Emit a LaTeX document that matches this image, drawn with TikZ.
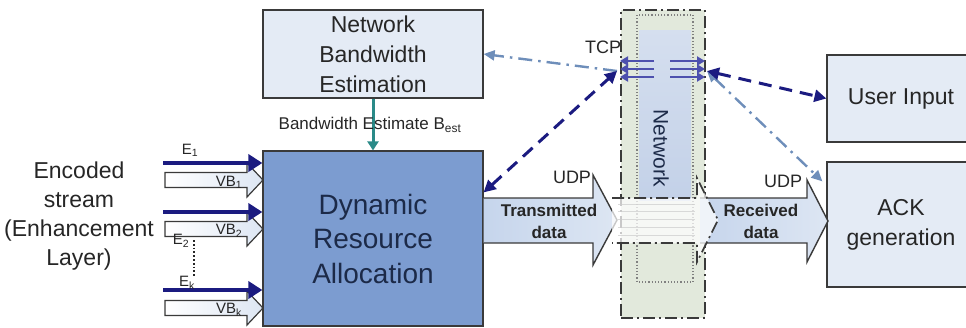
\documentclass[tikz,border=0pt]{standalone}
\usepackage{fontspec}
\setmainfont{Liberation Sans}
\usetikzlibrary{arrows.meta,calc}

\definecolor{txt}{HTML}{262626}
\definecolor{dratxt}{HTML}{1C2A48}
\definecolor{boxline}{HTML}{3A3A3A}
\definecolor{boxfill}{HTML}{E4EBF5}
\definecolor{drafill}{HTML}{7C9CD0}
\definecolor{navy}{HTML}{1B1B80}
\definecolor{teal}{HTML}{2A8A88}
\definecolor{ddblue}{HTML}{6E8EBA}
\definecolor{tcpblue}{HTML}{4D50AE}
\definecolor{netfill}{HTML}{E2E9DC}
\definecolor{netstrip}{HTML}{C3D1E8}
\definecolor{flowA}{HTML}{C6D5EC}
\definecolor{flowB}{HTML}{DDE6F3}

\tikzset{
  lightbox/.style={draw=boxline, line width=1.2pt, fill=boxfill, inner sep=0pt,
    text=txt, align=center, font=\fontsize{23}{30}\selectfont},
  drabox/.style={draw=boxline, line width=1.2pt, fill=drafill, inner sep=0pt,
    text=dratxt, align=center, font=\fontsize{28}{34.5}\selectfont},
  plain/.style={text=txt, inner sep=0pt, align=center},
  small/.style={plain, font=\fontsize{15}{17}\selectfont},
  proto/.style={plain, font=\fontsize{18}{20}\selectfont},
  flowtext/.style={plain, font=\bfseries\fontsize{17}{22}\selectfont},
  earrow/.style={navy, line width=4.8pt, -{Triangle[length=14pt,width=17pt]}},
  vbarrow/.style={draw=boxline, line width=1.2pt, left color=white, right color=flowB},
  flowarrow/.style={draw=boxline, line width=1.4pt, left color=flowA, right color=flowB},
  navydash/.style={navy, line width=3pt, dash pattern=on 13pt off 8pt,
    {Triangle[length=12pt,width=12pt]}-{Triangle[length=12pt,width=12pt]}},
  dashdot/.style={ddblue, line width=2.4pt, dash pattern=on 14pt off 6pt on 2.5pt off 6pt},
  ddtip/.style={Triangle[length=11pt,width=10pt]},
  tcparrow/.style={tcpblue, line width=2.2pt, -{Triangle[length=8pt,width=9pt]}},
  netframe/.style={draw=boxline, line width=1.6pt, fill=netfill,
    dash pattern=on 12pt off 4pt on 2pt off 4pt, inner sep=0pt},
}

% block arrow feeding a VB stream into the allocator, centred at height #1
\newcommand\vbblock[1]{%
  \draw[vbarrow] (165,{#1-7.5}) -- (247,{#1-7.5}) -- (247,{#1-17}) -- (263,#1)
    -- (247,{#1+17}) -- (247,{#1+7.5}) -- (165,{#1+7.5}) -- cycle;}

\begin{document}
\begin{tikzpicture}[x=1pt,y=-1pt]
\useasboundingbox (0,0) rectangle (966,327);

% ---------- network column ----------
\node[netframe, minimum width=84pt, minimum height=308pt] (net) at (663,164) {};
\draw[gray, line width=1.2pt, dotted] (637,15) rectangle (693,282);
\node[top color=netstrip!70, bottom color=netstrip, minimum width=52pt, minimum height=170pt, inner sep=0pt] (strip) at (665,115) {};
\node[rotate=-90, text=dratxt, inner sep=0pt, font=\fontsize{21}{24}\selectfont] (netlabel) at (661,148) {Network};

% ---------- main blocks ----------
\node[lightbox, minimum width=220pt, minimum height=88pt] (nbe) at (373,54) {Network\\Bandwidth\\Estimation};
\node[drabox, minimum width=220pt, minimum height=175pt] (dra) at (373,238.5) {Dynamic\\Resource\\Allocation};
\node[lightbox, minimum width=148pt, minimum height=87pt] (ui) at (901,98.5) {User Input};
\node[lightbox, minimum width=148pt, minimum height=125pt] (ack) at (901,224.5) {ACK\\generation};

% ---------- input streams ----------
\node[plain, font=\fontsize{23}{29}\selectfont] (enc) at (79,216) {Encoded\\stream\\(Enhancement\\Layer)};

\coordinate (e1s) at (163,163);
\coordinate (e2s) at (163,212);
\coordinate (eks) at (163,290);
\vbblock{180}
\vbblock{229}
\vbblock{308}
\draw[earrow] (e1s) -- (e1s -| dra.west);
\draw[earrow] (e2s) -- (e2s -| dra.west);
\draw[earrow] (eks) -- (eks -| dra.west);

\node[small] (le1) at (190,150) {E\textsubscript{1}};
\node[small] (le2) at (181,241) {E\textsubscript{2}};
\node[small] (lek) at (187,283) {E\textsubscript{k}};
\node[small] (lvb1) at (229,182) {VB\textsubscript{1}};
\node[small] (lvb2) at (229,231) {VB\textsubscript{2}};
\node[small] (lvbk) at (229,310) {VB\textsubscript{k}};
\draw[txt, line width=1.8pt, dotted] (194,240) -- (194,276);

% ---------- bandwidth estimate ----------
\draw[teal, line width=3pt, -{Triangle[length=9pt,width=11pt]}] (nbe.south) -- (dra.north);
\node[plain, font=\fontsize{17}{20}\selectfont] (best) at (370,125) {Bandwidth Estimate B\textsubscript{est}};

% ---------- data flow ----------
\draw[flowarrow] (700,198) -- (807,198) -- (807,180) -- (828,221) -- (807,262) -- (807,243) -- (700,243);
\draw[flowarrow] (dra.east |- 0,198) -- (593,198) -- (593,175) -- (617,220) -- (593,265) -- (593,243) -- (dra.east |- 0,243);
\fill[white, opacity=0.72] (612,198) -- (697,198) -- (697,178) -- (718,220) -- (697,262) -- (697,243) -- (612,243) -- cycle;
\foreach \yy in {204,211,219,227,235}
  \draw[gray!40, line width=0.8pt, opacity=0.7] (618,\yy) -- (695,\yy);
\draw[boxline, line width=1.6pt, dash pattern=on 12pt off 4pt on 2pt off 4pt]
  (612,198) -- (697,198) -- (697,178) -- (718,220) -- (697,262) -- (697,243) -- (612,243);

\node[flowtext] (tx) at (549,221) {Transmitted\\data};
\node[flowtext] (rx) at (761,221) {Received\\data};
\node[proto] (udp1) at (572,177) {UDP};
\node[proto] (udp2) at (783,181) {UDP};

% ---------- TCP signalling ----------
\coordinate (tcpL) at (617,71);
\coordinate (tcpR) at (707,71);
\foreach \yy in {61,69,77} {
  \draw[tcparrow] (654,\yy) -- (620,\yy);
  \draw[tcparrow] (670,\yy) -- (705,\yy);
}
\node[proto] (tcp) at (603,47) {TCP};

\draw[dashdot, -{Triangle[length=11pt,width=10pt]}] (tcpL) -- (nbe.east);
\draw[dashdot, {Triangle[length=11pt,width=10pt]}-{Triangle[length=11pt,width=10pt]}] (tcpR) -- ($(ack.north west)+(-4,20)$);
\draw[navydash] ($(dra.north east)+(0,42)$) -- (tcpL);
\draw[navydash] (tcpR) -- (ui.west);

\end{tikzpicture}
\end{document}
